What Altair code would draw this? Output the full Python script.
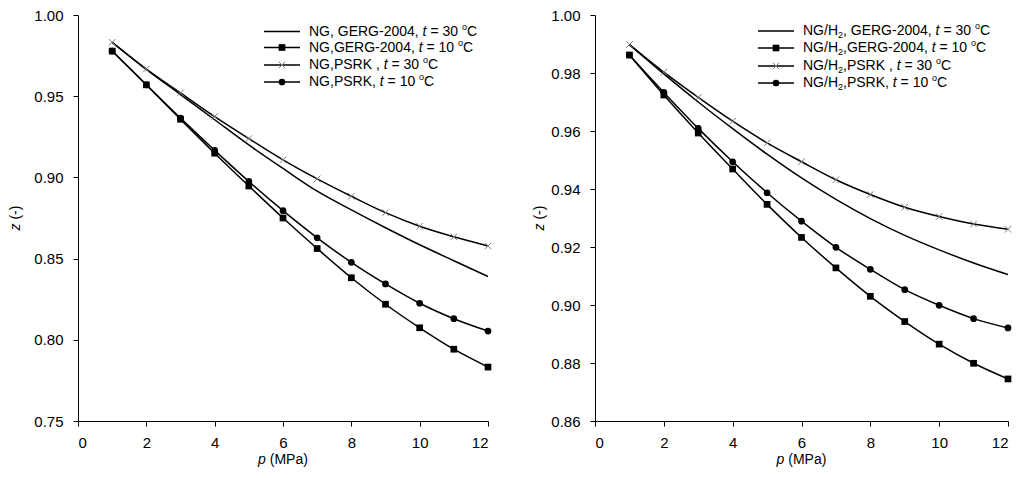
import altair as alt
import pandas as pd

# ---------------- data ----------------
p_vals = [1, 2, 3, 4, 5, 6, 7, 8, 9, 10, 11, 12]

ng_gerg30 = [0.9832, 0.9665, 0.9510, 0.9355, 0.9200, 0.9055, 0.8915, 0.8800, 0.8690, 0.8585, 0.8487, 0.8390]
ng_gerg10 = [0.9778, 0.9570, 0.9358, 0.9149, 0.8947, 0.8750, 0.8562, 0.8382, 0.8219, 0.8074, 0.7942, 0.7832]
ng_psrk30 = [0.9832, 0.9667, 0.9520, 0.9374, 0.9239, 0.9108, 0.8991, 0.8884, 0.8783, 0.8699, 0.8634, 0.8578]
ng_psrk10 = [0.9778, 0.9570, 0.9365, 0.9167, 0.8975, 0.8795, 0.8628, 0.8477, 0.8344, 0.8225, 0.8130, 0.8054]

h2_gerg30 = [0.9898, 0.9797, 0.9700, 0.9608, 0.9520, 0.9438, 0.9364, 0.9298, 0.9240, 0.9190, 0.9145, 0.9105]
h2_gerg10 = [0.9862, 0.9724, 0.9593, 0.9469, 0.9347, 0.9233, 0.9128, 0.9030, 0.8943, 0.8865, 0.8799, 0.8745]
h2_psrk30 = [0.9898, 0.9803, 0.9716, 0.9634, 0.9559, 0.9494, 0.9432, 0.9381, 0.9337, 0.9305, 0.9279, 0.9261]
h2_psrk10 = [0.9862, 0.9733, 0.9609, 0.9494, 0.9387, 0.9289, 0.9199, 0.9123, 0.9053, 0.8999, 0.8953, 0.8921]

x_ticks = [0, 2, 4, 6, 8, 10, 12]
left_y_ticks = [0.75, 0.80, 0.85, 0.90, 0.95, 1.00]
right_y_ticks = [0.86, 0.88, 0.90, 0.92, 0.94, 0.96, 0.98, 1.00]

markers = ["none", "square", "cross", "circle"]

left_legend = [
    [("NG, GERG-2004, ", "n"), ("t", "i"), (" = 30 ", "n"), ("o", "sup"), ("C", "n")],
    [("NG,GERG-2004, ", "n"), ("t", "i"), (" = 10 ", "n"), ("o", "sup"), ("C", "n")],
    [("NG,PSRK , ", "n"), ("t", "i"), (" = 30 ", "n"), ("o", "sup"), ("C", "n")],
    [("NG,PSRK, ", "n"), ("t", "i"), (" = 10 ", "n"), ("o", "sup"), ("C", "n")],
]
right_legend = [
    [("NG/H", "n"), ("2", "sub"), (", GERG-2004, ", "n"), ("t", "i"), (" = 30 ", "n"), ("o", "sup"), ("C", "n")],
    [("NG/H", "n"), ("2", "sub"), (",GERG-2004, ", "n"), ("t", "i"), (" = 10 ", "n"), ("o", "sup"), ("C", "n")],
    [("NG/H", "n"), ("2", "sub"), (",PSRK , ", "n"), ("t", "i"), (" = 30 ", "n"), ("o", "sup"), ("C", "n")],
    [("NG/H", "n"), ("2", "sub"), (",PSRK, ", "n"), ("t", "i"), (" = 10 ", "n"), ("o", "sup"), ("C", "n")],
]

# ---------------- helpers ----------------
FONT = "Liberation Sans"
AW = {'N': 722, 'G': 778, ',': 278, ' ': 278, 'E': 667, 'R': 722, '-': 333, '0': 556,
      '1': 556, '2': 556, '3': 556, '4': 556, 't': 278, '=': 584, 'C': 722, '/': 278,
      'H': 722, 'P': 667, 'S': 667, 'K': 667, 'o': 556, '(': 333, ')': 333, 'M': 833,
      'a': 556, 'p': 556, 'z': 500}


def tw(s, size):
    return sum(AW.get(c, 556) for c in s) * size / 1000.0


def layout_runs(runs, x0, y0, fs=14, small=9):
    cur = x0
    out = []
    for text, style in runs:
        size = small if style in ("sup", "sub") else fs
        lead = len(text) - len(text.lstrip(" "))
        core = text.strip(" ")
        x = cur + tw(" " * lead, size)
        yy = y0 - 5 if style == "sup" else (y0 + 4 if style == "sub" else y0)
        if core:
            out.append(dict(t=core, x=x, y=yy, style=style, size=size))
        cur += tw(text, size)
    return out


def long_df(series_list):
    rows = []
    for i, vals in enumerate(series_list):
        for p, z in zip(p_vals, vals):
            rows.append(dict(p=p, z=z, series=i, marker=markers[i]))
    return pd.DataFrame(rows)


XPATH = "M-1,-1L1,1M-1,1L1,-1"


def panel(series_list, ydom, yticks, legend_runs, W, H, leg_rows, leg_x1, leg_x2, leg_mx, leg_tx, ytitle_x):
    df = long_df(series_list)
    xs = alt.Scale(domain=[0, 12], nice=False, zero=False)
    ys = alt.Scale(domain=ydom, nice=False, zero=False)
    X_ax = alt.X("p:Q", scale=xs, axis=alt.Axis(values=x_ticks, format="d", title=None, labelPadding=9))
    Y_ax = alt.Y("z:Q", scale=ys, axis=alt.Axis(values=yticks, format=".2f", title=None, labelPadding=10))
    X_na = alt.X("p:Q", scale=xs, axis=None)
    Y_na = alt.Y("z:Q", scale=ys, axis=None)

    base = alt.Chart(df)
    lines = base.mark_line(interpolate="monotone", color="black", strokeWidth=1.5).encode(
        x=X_ax, y=Y_ax, detail="series:N")
    sq = base.transform_filter(alt.datum.marker == "square").mark_point(
        shape="square", filled=True, color="black", size=45, opacity=1).encode(x=X_na, y=Y_na)
    ci = base.transform_filter(alt.datum.marker == "circle").mark_point(
        shape="circle", filled=True, color="black", size=45, opacity=1).encode(x=X_na, y=Y_na)
    cr = base.transform_filter(alt.datum.marker == "cross").mark_point(
        shape=XPATH, filled=False, stroke="#7a7a7a", strokeWidth=1, size=42, opacity=1).encode(x=X_na, y=Y_na)

    # legend (pixel positions)
    sym_rows = []
    txt_rows = []
    for i, runs in enumerate(legend_runs):
        sym_rows.append(dict(x1=leg_x1, x2=leg_x2, mx=leg_mx, y=leg_rows[i], marker=markers[i]))
        txt_rows += layout_runs(runs, leg_tx, leg_rows[i])
    # axis titles as rich text
    xt0 = W / 2 - tw("p (MPa)", 14) / 2
    txt_rows.append(dict(t="p", x=xt0, y=H + 39, style="i", size=14))
    txt_rows.append(dict(t="(MPa)", x=xt0 + tw("p ", 14), y=H + 39, style="n", size=14))
    sdf = pd.DataFrame(sym_rows)
    tdf = pd.DataFrame(txt_rows)
    ytw = tw("z (-)", 14)
    ydf = pd.DataFrame([
        dict(t="z", x=ytitle_x, y=H / 2 + ytw / 2, style="i"),
        dict(t="(-)", x=ytitle_x, y=H / 2 + ytw / 2 - tw("z ", 14), style="n"),
    ])

    PX = alt.X("x1:Q", scale=None, axis=None)
    leg_lines = alt.Chart(sdf).mark_rule(color="black", strokeWidth=1.3).encode(
        x=PX, x2="x2:Q", y=alt.Y("y:Q", scale=None, axis=None))
    MX = alt.X("mx:Q", scale=None, axis=None)
    MY = alt.Y("y:Q", scale=None, axis=None)
    leg_sq = alt.Chart(sdf).transform_filter(alt.datum.marker == "square").mark_point(
        shape="square", filled=True, color="black", size=45, opacity=1).encode(x=MX, y=MY)
    leg_ci = alt.Chart(sdf).transform_filter(alt.datum.marker == "circle").mark_point(
        shape="circle", filled=True, color="black", size=45, opacity=1).encode(x=MX, y=MY)
    leg_cr = alt.Chart(sdf).transform_filter(alt.datum.marker == "cross").mark_point(
        shape=XPATH, filled=False, stroke="#7a7a7a", strokeWidth=1, size=42, opacity=1).encode(x=MX, y=MY)

    TX = alt.X("x:Q", scale=None, axis=None)
    TY = alt.Y("y:Q", scale=None, axis=None)
    t_norm = alt.Chart(tdf).transform_filter(alt.datum.style == "n").mark_text(
        font=FONT, fontSize=14, align="left", baseline="middle", color="black").encode(x=TX, y=TY, text="t:N")
    t_ital = alt.Chart(tdf).transform_filter(alt.datum.style == "i").mark_text(
        font=FONT, fontSize=14, fontStyle="italic", align="left", baseline="middle", color="black").encode(
        x=TX, y=TY, text="t:N")
    t_small = alt.Chart(tdf).transform_filter((alt.datum.style == "sup") | (alt.datum.style == "sub")).mark_text(
        font=FONT, fontSize=9, align="left", baseline="middle", color="black").encode(x=TX, y=TY, text="t:N")
    yt_n = alt.Chart(ydf).transform_filter(alt.datum.style == "n").mark_text(
        font=FONT, fontSize=14, angle=270, align="left", baseline="middle", color="black").encode(
        x=TX, y=TY, text="t:N")
    yt_i = alt.Chart(ydf).transform_filter(alt.datum.style == "i").mark_text(
        font=FONT, fontSize=14, fontStyle="italic", angle=270, align="left", baseline="middle", color="black").encode(
        x=TX, y=TY, text="t:N")

    return alt.layer(lines, sq, ci, cr, leg_lines, leg_sq, leg_ci, leg_cr,
                     t_norm, t_ital, t_small, yt_n, yt_i).resolve_scale(
        x="independent", y="independent").properties(width=W, height=H)


LW, RW, H = 410, 413, 406
left = panel([ng_gerg30, ng_gerg10, ng_psrk30, ng_psrk10], [0.75, 1.00], left_y_ticks, left_legend,
             LW, H, [16.5, 32.5, 50, 67], 186, 222, 204, 231, -62)
right = panel([h2_gerg30, h2_gerg10, h2_psrk30, h2_psrk10], [0.86, 1.00], right_y_ticks, right_legend,
              RW, H, [16, 33, 51, 68], 163, 199, 181, 208, -55)

chart = alt.hconcat(left, right, spacing=38).properties(
    padding={"left": 0, "top": 0, "right": 0, "bottom": 0}
).configure_view(stroke=None).configure_axis(
    grid=False, domainColor="black", domainWidth=1, tickColor="black", tickSize=5, tickWidth=1,
    labelColor="black", labelFont=FONT, labelFontSize=15
)

chart.save("out.html", embed_options={"renderer": "svg", "actions": False})
